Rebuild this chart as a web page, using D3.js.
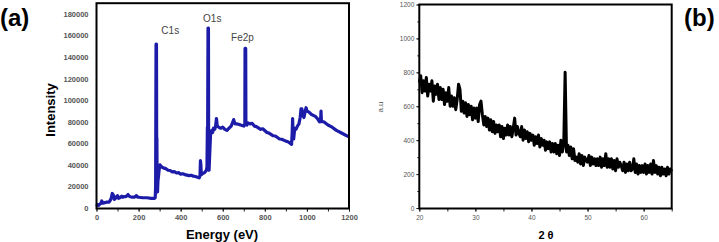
<!doctype html>
<html>
  <head>
    <script src="https://d3js.org/d3.v7.min.js"></script>
    <style>
      body { margin: 0; background: #fff; }
      text { font-family: "Liberation Sans", Arial, sans-serif; }
      .tick text { fill: #555; }
      .domain { display: none; }
    </style>
  </head>
  <body>
    <div id="chart"></div>
    <script>
      // XPS survey: [binding energy (eV), counts]
      var xpsSpectrum = [
        [0,1500],[5,3000],[10,2500],[15,3500],[20,4000],[25,6500],[30,4500],[40,5000],[50,5500],[60,5500],
        [65,7000],[70,9000],[75,13500],[80,12000],[85,8000],[90,9000],[95,10500],[100,11500],[105,9000],[110,9500],
        [115,10000],[120,11000],[125,10000],[130,10500],[140,10500],[150,12500],[155,11000],[160,10500],[170,10000],[180,10000],
        [190,11500],[195,10000],[200,10000],[220,9500],[240,9500],[260,9000],[275,9000],[279,9500],[281,20000],[283,152000],
        [285,152000],[286,60000],[287,65000],[288,18000],[290,15000],[292,25000],[295,30000],[298,36000],[302,40000],[306,39000],
        [310,38000],[320,37000],[330,36500],[340,35000],[350,34800],[360,33500],[370,33800],[380,32500],[390,32800],[400,31500],
        [410,31800],[420,31000],[430,30500],[440,30000],[450,30400],[460,29500],[470,29200],[480,28500],
        [488,28000],[492,30000],[494,44000],[496,40000],[498,31000],[505,32000],[515,33000],[522,35000],[525,38000],[527,75000],
        [528,60000],[530,167000],[532,167000],[533,40000],[535,35000],[538,50000],[542,68000],[548,72000],[552,70000],[556,74000],
        [562,73000],[566,76000],[570,83000],[574,76000],[580,75000],[590,74000],[600,75000],[610,73000],[620,72000],[630,74000],
        [640,76000],[648,80000],[652,82000],[658,78000],[670,78000],[685,77000],[700,76000],[705,77000],[706,148000],[709,148000],
        [710,78000],[715,77000],[720,79000],[730,78000],[740,78500],[750,76000],[760,75500],[780,73000],[790,73500],[810,70000],
        [820,69500],[840,67000],[850,66800],[870,64000],[880,63800],[900,62000],[910,61500],
        [920,60000],[927,59000],[930,70000],[932,83000],[934,70000],[937,64000],[942,74000],[948,73000],[955,76000],[962,78000],
        [968,84000],[972,92000],[976,92000],[980,86000],[986,84000],[992,90000],[996,93000],[1000,90000],[1010,89000],[1020,87000],
        [1030,86000],[1040,85000],[1050,83000],[1060,80000],[1065,81000],[1067,90000],[1069,80000],[1080,80000],[1100,77000],[1120,75000],
        [1140,72000],[1160,70000],[1180,68000],[1200,66000]
      ];
      var xpsPeaks = [
        { name: "C1s", energy: 284, top: 152000 },
        { name: "O1s", energy: 531, top: 167000 },
        { name: "Fe2p", energy: 708, top: 148000 }
      ];
      var xpsEnergyTicks = [0, 200, 400, 600, 800, 1000, 1200];
      var xpsCountTicks = [0, 20000, 40000, 60000, 80000, 100000, 120000, 140000, 160000, 180000];

      // XRD pattern: counts every 0.25 degree from 20 to 65
      var xrdStart = 20, xrdStep = 0.25;
      var xrdIntensity = [
        740,780,680,750,690,770,660,730,
        690,750,630,720,670,730,640,710,
        640,700,610,680,630,710,600,660,
        600,650,580,640,730,700,570,630,
        560,620,540,610,550,600,520,590,
        530,590,510,610,630,550,490,540,
        480,530,460,520,450,510,440,490,
        450,490,420,480,410,470,430,490,
        430,480,420,470,530,430,480,440,
        420,480,400,460,410,450,390,440,
        400,430,370,420,380,430,360,410,
        370,400,340,390,350,390,330,380,
        330,380,320,370,310,400,330,370,
        800,
        330,370,310,360,290,350,280,
        300,270,320,260,310,250,300,280,
        270,310,250,300,260,290,250,290,
        250,300,240,290,250,320,240,290,
        240,290,230,280,220,290,240,270,
        250,220,270,210,260,220,270,220,
        230,290,210,260,200,250,210,250,
        210,260,200,250,210,260,200,280,
        210,250,200,240,190,240,200,230,
        190,240,200,230,215
      ];
      var xrdAngleTicks = [20, 30, 40, 50, 60];
      var xrdCountTicks = [0, 200, 400, 600, 800, 1000, 1200];

      var width = 719, height = 242;
      var svg = d3.select("#chart").append("svg")
        .attr("width", width).attr("height", height);

      // ---------- panel (a) ----------
      var ax = d3.scaleLinear().domain([0, 1200]).range([96.5, 349]);
      var ay = d3.scaleLinear().domain([0, 190000]).range([208, 3.2]);

      svg.append("g")
        .attr("transform", "translate(0,208.5)")
        .call(d3.axisBottom(ax).tickValues(d3.range(0, 1201, 100)).tickSize(3).tickFormat(""))
        .selectAll("line").attr("stroke", "#222");
      svg.append("g")
        .attr("transform", "translate(0,208.5)")
        .call(d3.axisBottom(ax).tickValues(xpsEnergyTicks).tickSize(3).tickPadding(3).tickFormat(d3.format("d")))
        .call(function(g) {
          g.selectAll("text").attr("font-size", 7.5).attr("font-weight", "bold");
          g.selectAll("line").attr("stroke", "#222");
        });
      svg.append("g")
        .attr("transform", "translate(96.5,0)")
        .call(d3.axisLeft(ay).tickValues(xpsCountTicks).tickSize(0).tickPadding(8).tickFormat(d3.format("d")))
        .call(function(g) {
          g.selectAll("text").attr("font-size", 7.5).attr("font-weight", "bold");
        });

      var xpsLine = d3.line()
        .x(function(d) { return ax(d[0]); })
        .y(function(d) { return ay(d[1]); });
      svg.append("path")
        .datum(xpsSpectrum)
        .attr("d", xpsLine)
        .attr("fill", "none")
        .attr("stroke", "#1c1ca8")
        .attr("stroke-width", 3.2)
        .attr("stroke-linejoin", "round");

      svg.append("rect")
        .attr("x", ax(0)).attr("y", ay(190000))
        .attr("width", ax(1200) - ax(0)).attr("height", ay(0) - ay(190000) + 0.5)
        .attr("fill", "none").attr("stroke", "#000").attr("stroke-width", 2);

      svg.selectAll(".peak")
        .data(xpsPeaks)
        .enter().append("text")
        .attr("class", "peak")
        .attr("x", function(d) { return ax(d.energy) + (d.name == "C1s" ? 14 : d.name == "Fe2p" ? -3 : 4); })
        .attr("y", function(d) { return ay(d.top) - (d.name == "O1s" ? 6 : d.name == "C1s" ? 10 : 7); })
        .attr("text-anchor", "middle")
        .attr("font-size", 10)
        .attr("fill", "#444")
        .text(function(d) { return d.name; });

      svg.append("text")
        .attr("x", 222).attr("y", 239)
        .attr("text-anchor", "middle")
        .attr("font-size", 13).attr("font-weight", "bold")
        .text("Energy (eV)");
      svg.append("text")
        .attr("transform", "translate(55,110) rotate(-90)")
        .attr("text-anchor", "middle")
        .attr("font-size", 13).attr("font-weight", "bold")
        .text("Intensity");
      svg.append("text")
        .attr("x", 0).attr("y", 26)
        .attr("font-family", "'Open Sans', sans-serif")
        .attr("font-size", 24).attr("font-weight", "bold")
        .text("(a)");

      // ---------- panel (b) ----------
      var bx = d3.scaleLinear().domain([20, 65]).range([419.3, 671.7]);
      var by = d3.scaleLinear().domain([0, 1200]).range([208, 4.5]);

      svg.append("g")
        .attr("transform", "translate(0,208.5)")
        .call(d3.axisBottom(bx).tickValues(d3.range(20, 66, 5)).tickSize(3).tickFormat(""))
        .selectAll("line").attr("stroke", "#222");
      svg.append("g")
        .attr("transform", "translate(0,208.5)")
        .call(d3.axisBottom(bx).tickValues(xrdAngleTicks).tickSize(3).tickPadding(4).tickFormat(d3.format("d")))
        .call(function(g) {
          g.selectAll("text").attr("font-size", 6.5);
          g.selectAll("line").attr("stroke", "#222");
        });
      svg.append("g")
        .attr("transform", "translate(419.3,0)")
        .call(d3.axisLeft(by).tickValues(d3.range(0, 1201, 100)).tickSize(2).tickFormat(""))
        .selectAll("line").attr("stroke", "#222");
      svg.append("g")
        .attr("transform", "translate(419.3,0)")
        .call(d3.axisLeft(by).tickValues(xrdCountTicks).tickSize(3).tickPadding(2).tickFormat(d3.format("d")))
        .call(function(g) {
          g.selectAll("text").attr("font-size", 6.5);
          g.selectAll("line").attr("stroke", "#222");
        });

      var xrdLine = d3.line()
        .x(function(d, i) { return bx(xrdStart + i * xrdStep); })
        .y(function(d) { return by(d); });
      svg.append("path")
        .datum(xrdIntensity)
        .attr("d", xrdLine)
        .attr("fill", "none")
        .attr("stroke", "#000")
        .attr("stroke-width", 3)
        .attr("stroke-linejoin", "round");

      svg.append("rect")
        .attr("x", bx(20)).attr("y", by(1200))
        .attr("width", bx(65) - bx(20)).attr("height", by(0) - by(1200) + 0.5)
        .attr("fill", "none").attr("stroke", "#000").attr("stroke-width", 2);

      svg.append("text")
        .attr("x", 546).attr("y", 239)
        .attr("text-anchor", "middle")
        .attr("font-size", 11).attr("font-weight", "bold")
        .text("2 θ");
      svg.append("text")
        .attr("transform", "translate(383,107) rotate(-90)")
        .attr("text-anchor", "middle")
        .attr("font-size", 8)
        .attr("fill", "#555")
        .text("a.u");
      svg.append("text")
        .attr("x", 684).attr("y", 26)
        .attr("font-family", "'Open Sans', sans-serif")
        .attr("font-size", 24).attr("font-weight", "bold")
        .text("(b)");
    </script>
  </body>
</html>
